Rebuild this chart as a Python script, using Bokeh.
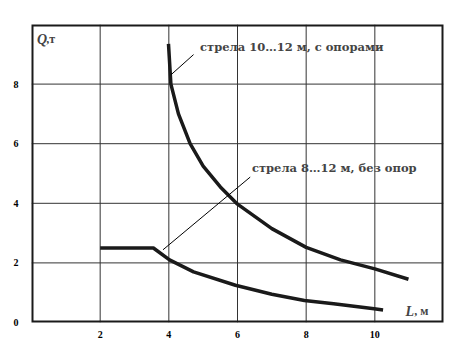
from bokeh.plotting import figure
from bokeh.models import Label, FixedTicker, Range1d
from bokeh.embed import file_html
from bokeh.resources import INLINE

# data
upper_L = [3.99, 4.06, 4.28, 4.62, 5.0, 5.5, 6.0, 7.0, 8.0, 9.0, 10.0, 10.98]
upper_Q = [9.35, 8.0, 7.0, 6.0, 5.25, 4.55, 3.97, 3.15, 2.52, 2.1, 1.8, 1.45]
lower_L = [2.0, 3.55, 4.02, 4.72, 5.94, 7.0, 7.95, 8.8, 9.98, 10.24]
lower_Q = [2.5, 2.5, 2.1, 1.7, 1.25, 0.95, 0.74, 0.63, 0.46, 0.42]
x_ticks = [2, 4, 6, 8, 10]
y_ticks = [0, 2, 4, 6, 8]
x_grid = [2, 4, 6, 8, 10]
y_grid = [2, 4, 6, 8]
x_lim = (0, 12)
y_lim = (0, 10)
label_upper = "стрела 10…12 м, с опорами"
label_lower = "стрела 8…12 м, без опор"
leader_upper = ([4.07, 4.72], [8.32, 8.99])
leader_lower = ([3.83, 6.37], [2.44, 4.88])

FONT = "Liberation Serif"
LFONT = "DejaVu Serif"

p = figure(width=464, height=351, x_range=Range1d(*x_lim), y_range=Range1d(*y_lim),
           output_backend="svg", toolbar_location=None,
           min_border_left=31, min_border_right=21, min_border_top=24, min_border_bottom=29)
p.background_fill_color = "white"
p.border_fill_color = "white"
p.outline_line_color = None
p.xgrid.grid_line_color = None
p.ygrid.grid_line_color = None

bottom_ax = p.below[0]
left_ax = p.left[0]
bottom_ax.ticker = FixedTicker(ticks=x_ticks)
left_ax.ticker = FixedTicker(ticks=y_ticks)

for ax in (bottom_ax, left_ax):
    ax.axis_line_color = None
    ax.major_tick_line_color = None
    ax.minor_tick_line_color = None
    ax.major_label_text_font = FONT
    ax.major_label_text_font_style = "bold"
    ax.major_label_text_font_size = "10px"
    ax.major_label_text_color = "black"
bottom_ax.major_label_standoff = 2
left_ax.major_label_standoff = 7

# grid lines
p.segment(x0=x_grid, y0=[y_lim[0]] * len(x_grid), x1=x_grid, y1=[y_lim[1]] * len(x_grid),
          line_color="#333333", line_width=1)
p.segment(x0=[x_lim[0]] * len(y_grid), y0=y_grid, x1=[x_lim[1]] * len(y_grid), y1=y_grid,
          line_color="#333333", line_width=1)

# frame
p.quad(left=[x_lim[0]], right=[x_lim[1]], bottom=[y_lim[0]], top=[y_lim[1]],
       fill_color=None, line_color="#1a1a1a", line_width=4)

p.line(upper_L, upper_Q, line_color="#1a1a1a", line_width=3.5)
p.line(lower_L, lower_Q, line_color="#1a1a1a", line_width=3.5)
p.line(leader_upper[0], leader_upper[1], line_color="black", line_width=1)
p.line(leader_lower[0], leader_lower[1], line_color="black", line_width=1)

p.add_layout(Label(x=4.91, y=9.25, text=label_upper, text_font=LFONT, text_font_style="bold",
                   text_font_size="11.5px", text_baseline="middle", text_align="left"))
p.add_layout(Label(x=6.42, y=5.18, text=label_lower, text_font=LFONT, text_font_style="bold",
                   text_font_size="11.5px", text_baseline="middle", text_align="left"))

# axis titles
p.add_layout(Label(x=0.16, y=9.5, text="Q", text_font=FONT,
                   text_font_style="bold italic", text_font_size="14px", text_baseline="middle"))
p.add_layout(Label(x=0.43, y=9.5, text=",т", text_font=FONT,
                   text_font_style="bold", text_font_size="12px", text_baseline="middle"))
p.add_layout(Label(x=10.89, y=0.37, text="L", text_font=FONT,
                   text_font_style="bold italic", text_font_size="14px", text_baseline="middle"))
p.add_layout(Label(x=11.15, y=0.37, text=", м", text_font=FONT,
                   text_font_style="bold", text_font_size="12px", text_baseline="middle"))

open("out.html", "w").write(file_html(p, INLINE))
